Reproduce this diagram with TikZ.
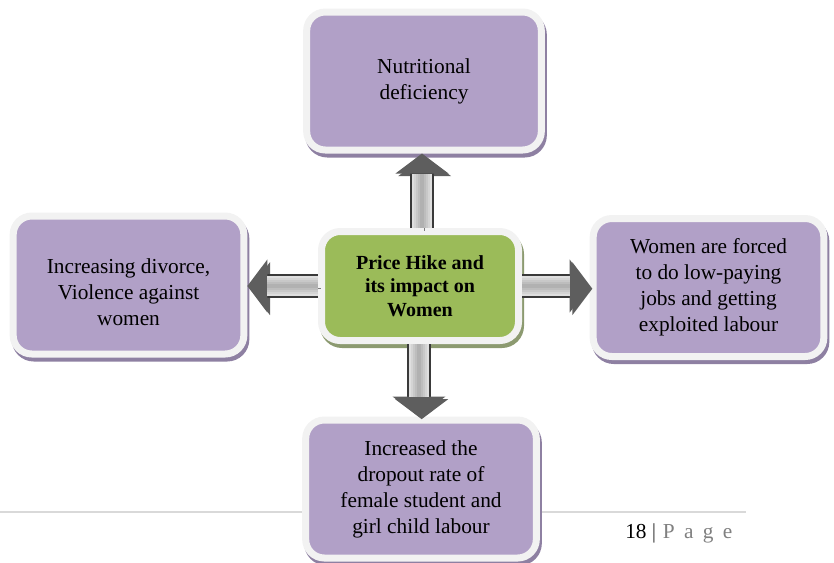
\documentclass[tikz,border=0pt]{standalone}
\usepackage{fontspec}
\setmainfont{Liberation Serif}
\usepackage{tikz}
\usetikzlibrary{arrows.meta,positioning,calc}
\definecolor{lilac}{HTML}{B1A0C7}
\definecolor{lilacshade}{HTML}{8E80A2}
\definecolor{leafgreen}{HTML}{9BBB59}
\definecolor{leafshade}{HTML}{8C9A70}
\definecolor{framegray}{HTML}{F2F2F2}
\definecolor{arrowshadow}{HTML}{7A7A7A}
\definecolor{arrowdark}{HTML}{3A3A3A}
\definecolor{arrowhead}{HTML}{5E5E5E}
\definecolor{arrowmid}{HTML}{808080}
\definecolor{footgray}{HTML}{D9D9D9}
\tikzstyle{panel} = [rectangle, rounded corners=14pt, align=center, draw=framegray, line width=5.25pt]
\tikzstyle{effect} = [panel, minimum width=173pt, minimum height=103.5pt, fill=lilac, font=\fontsize{16}{19.5}\selectfont, preaction={draw=lilacshade, fill=lilacshade, transform canvas={xshift=1.5pt, yshift=-3pt}}]
\tikzstyle{core} = [panel, minimum width=147.75pt, minimum height=81.75pt, fill=leafgreen, font=\bfseries\fontsize{15}{17.5}\selectfont, preaction={draw=leafshade, fill=leafshade, transform canvas={xshift=1.5pt, yshift=-3pt}}]
\tikzstyle{fatarrow} = [line width=18pt, draw=arrowdark, -{Triangle[width=39pt, length=15pt, color=arrowhead]},
  preaction={draw=arrowshadow, transform canvas={xshift=2pt, yshift=-2pt}},
  postaction={draw=gray!25, line width=15pt, -, shorten >=15pt},
  postaction={draw=gray!34, line width=12pt, -, shorten >=15pt},
  postaction={draw=gray!43, line width=9pt, -, shorten >=15pt},
  postaction={draw=gray!52, line width=6pt, -, shorten >=15pt},
  postaction={draw=gray!61, line width=3pt, -, shorten >=15pt}]

\begin{document}
\begin{tikzpicture}[x=0.75pt, y=-0.75pt]
    \useasboundingbox (0,0) rectangle (834,562);
    % page footer rule, behind the boxes
    \draw[footgray, line width=1.2pt] (0, 512) -- (746, 512);

    % boxes
    \node[effect, minimum width=176pt] (top) at (424, 81) {Nutritional\\deficiency};
    \node[core] (hub) at (420, 286) {Price Hike and\\its impact on\\Women};
    \node[effect] (left) at (128.5, 285) {\raisebox{-7pt}[\height][\depth]{\begin{tabular}{@{}c@{}}Increasing divorce,\\Violence against\\women\end{tabular}}};
    \node[effect] (right) at (708.5, 287.5) {Women are forced\\to do low-paying\\jobs and getting\\exploited labour};
    \node[effect] (bottom) at (421, 489) {Increased the\\dropout rate of\\female student and\\girl child labour};

    % arrows
    \draw[fatarrow] ([xshift=1.5pt]hub.north) -- ([xshift=1.5pt]hub.north |- top.south);
    \draw[fatarrow] ([xshift=-0.75pt]hub.south) -- ([xshift=-0.75pt]hub.south |- bottom.north);
    \draw[fatarrow] (hub.west) -- (hub.west -| left.east);
    \draw[fatarrow] (hub.east) -- (hub.east -| right.west);

    % page number
    \node[anchor=base west, inner sep=0pt, font=\fontsize{16}{19.5}\selectfont] (pagenum) at (625, 538)
        {18\hspace{4pt}{\color{arrowdark}|}\hspace{5pt}{\color{arrowmid}P\hspace{7pt}a\hspace{7pt}g\hspace{7pt}e}};
\end{tikzpicture}
\end{document}
